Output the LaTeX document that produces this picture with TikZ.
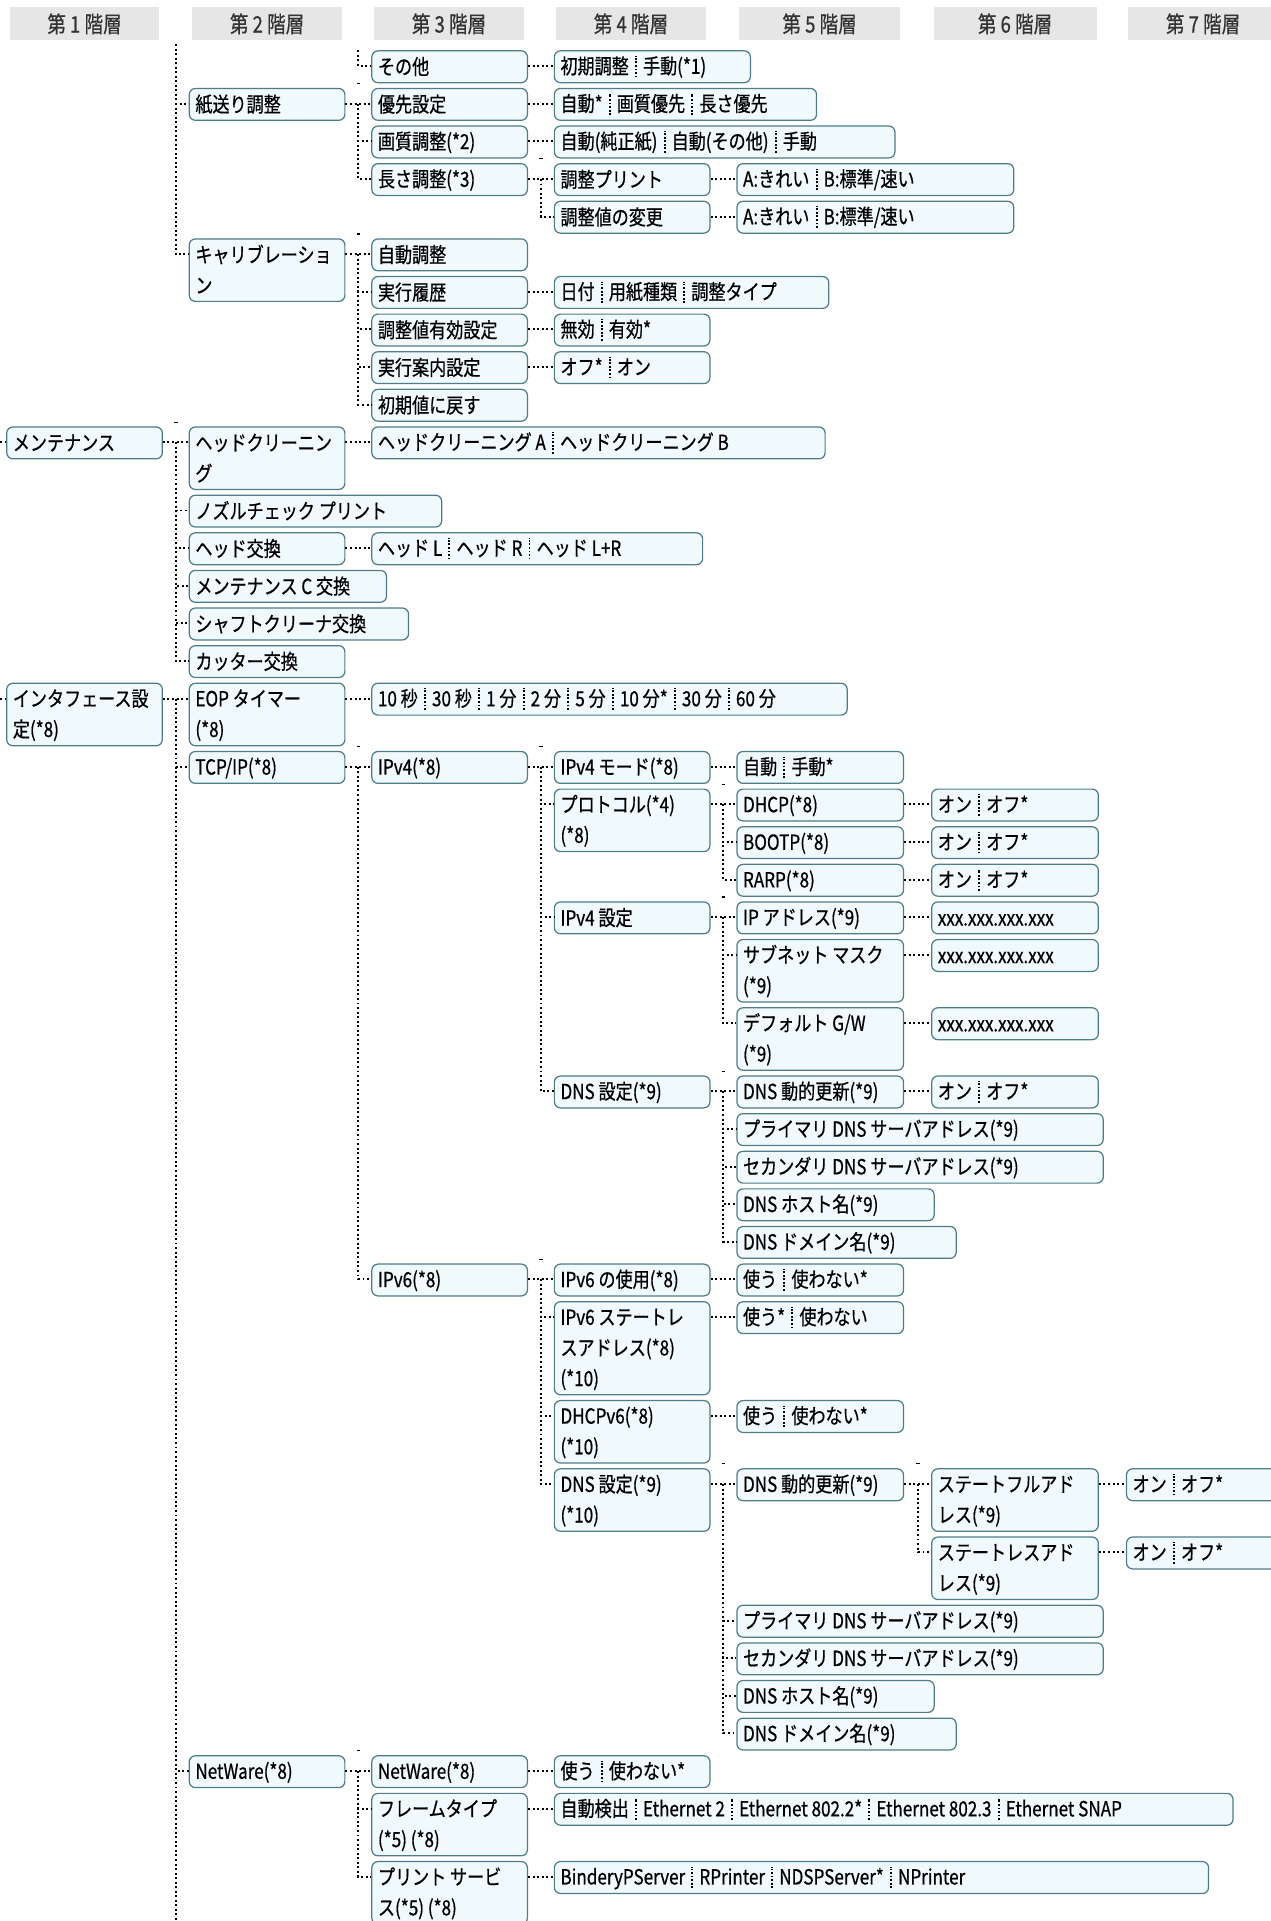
\documentclass[tikz,border=0pt]{standalone}
\usepackage{fontspec}
\newfontfamily\jp[FakeStretch=0.82,FakeBold=0.6]{Noto Sans CJK JP}
\definecolor{bd}{HTML}{4E7C88}
\definecolor{bf}{HTML}{F0FAFD}
\definecolor{hd}{HTML}{E6E6E6}
\definecolor{ht}{HTML}{333333}
\newcommand\dv{\hspace{5pt}\tikz[baseline=0pt]\draw[line width=1.6pt,dash pattern=on 1.5pt off 1.4pt] (0pt,-3pt)--(0pt,14.5pt);\hspace{5pt}}
\newcommand\st{\vrule width 0pt height 15pt depth 2.5pt}
\tikzset{
  bx/.style={draw=bd, fill=bf, line width=1pt, rounded corners=5pt, anchor=north west, inner sep=0pt},
  hdr/.style={fill=hd, text=ht, minimum height=27pt, inner sep=0pt, font=\jp\fontsize{18.5}{25}\selectfont},
  conn/.style={line width=1.6pt, dash pattern=on 1.6pt off 2.1pt, black},
  tk/.style={line width=0.9pt, black}
}
\newcommand\B[6]{\node[bx, minimum width=#4pt, minimum height={26+25*(#5-1)}] (#1) at (#2,#3) {\parbox{\dimexpr#4pt-10pt\relax}{\raggedright\st #6\st}};}
\newcommand\link[2]{\draw[conn] ([yshift=-13pt]#1.north east) -- ([yshift=-13pt]#2.north west);}
\newcommand\tree[3]{%
  \link{#1}{#2}
  \draw[tk] ([xshift=-12pt,yshift=3.5pt]#2.north west) -- ([xshift=-9pt,yshift=3.5pt]#2.north west);
  \foreach \c in {#3} {\draw[conn] ([xshift=-10.5pt,yshift=-13pt]#2.north west) |- ([yshift=-13pt]\c.north west);}
}
\begin{document}
\begin{tikzpicture}[x=1pt,y=-1pt,font=\jp\fontsize{17}{25}\selectfont]
\useasboundingbox (0,0) rectangle (1037,1568);
% headers
\node[hdr, minimum width=122pt] (h1) at (69,19.5) {第 1 階層};
\node[hdr, minimum width=122pt] (h2) at (218,19.5) {第 2 階層};
\node[hdr, minimum width=123pt] (h3) at (366.5,19.5) {第 3 階層};
\node[hdr, minimum width=122pt] (h4) at (515,19.5) {第 4 階層};
\node[hdr, minimum width=132pt] (h5) at (669,19.5) {第 5 階層};
\node[hdr, minimum width=133pt] (h6) at (828.5,19.5) {第 6 階層};
\node[hdr, minimum width=122pt] (h7) at (982,19.5) {第 7 階層};

% ---- boxes
\B{a0}{303}{41.0}{127}{1}{その他}
\B{a0o}{452}{41.0}{160}{1}{初期調整\dv 手動(*1)}
\B{b}{154}{71.7}{127}{1}{紙送り調整}
\B{b1}{303}{71.7}{127}{1}{優先設定}
\B{b1o}{452}{71.7}{214}{1}{自動*\dv 画質優先\dv 長さ優先}
\B{b2}{303}{102.4}{127}{1}{画質調整(*2)}
\B{b2o}{452}{102.4}{278}{1}{自動(純正紙)\dv 自動(その他)\dv 手動}
\B{b3}{303}{133.1}{127}{1}{長さ調整(*3)}
\B{b3a}{452}{133.1}{127}{1}{調整プリント}
\B{b3ao}{601}{133.1}{226}{1}{A:きれい\dv B:標準/速い}
\B{b3b}{452}{163.8}{127}{1}{調整値の変更}
\B{b3bo}{601}{163.8}{226}{1}{A:きれい\dv B:標準/速い}
\B{k}{154}{194.5}{127}{2}{キャリブレーショ\\ン}
\B{k1}{303}{194.5}{127}{1}{自動調整}
\B{k2}{303}{225.2}{127}{1}{実行履歴}
\B{k2o}{452}{225.2}{224}{1}{日付\dv 用紙種類\dv 調整タイプ}
\B{k3}{303}{255.9}{127}{1}{調整値有効設定}
\B{k3o}{452}{255.9}{127}{1}{無効\dv 有効*}
\B{k4}{303}{286.6}{127}{1}{実行案内設定}
\B{k4o}{452}{286.6}{127}{1}{オフ*\dv オン}
\B{k5}{303}{317.3}{127}{1}{初期値に戻す}
\B{m}{5}{348.0}{127}{1}{メンテナンス}
\B{m1}{154}{348.0}{127}{2}{ヘッドクリーニン\\グ}
\B{m1o}{303}{348.0}{370}{1}{ヘッドクリーニング A\dv ヘッドクリーニング B}
\B{m2}{154}{403.7}{206}{1}{ノズルチェック プリント}
\B{m3}{154}{434.4}{127}{1}{ヘッド交換}
\B{m3o}{303}{434.4}{270}{1}{ヘッド L\dv ヘッド R\dv ヘッド L+R}
\B{m4}{154}{465.1}{161}{1}{メンテナンス C 交換}
\B{m5}{154}{495.8}{179}{1}{シャフトクリーナ交換}
\B{m6}{154}{526.5}{127}{1}{カッター交換}
\B{i}{5}{557.2}{127}{2}{インタフェース設\\定(*8)}
\B{i1}{154}{557.2}{127}{2}{EOP タイマー\\(*8)}
\B{i1o}{303}{557.2}{388}{1}{10 秒\dv 30 秒\dv 1 分\dv 2 分\dv 5 分\dv 10 分*\dv 30 分\dv 60 分}
\B{t}{154}{612.9}{127}{1}{TCP/IP(*8)}
\B{t4}{303}{612.9}{127}{1}{IPv4(*8)}
\B{t4a}{452}{612.9}{127}{1}{IPv4 モード(*8)}
\B{t4ao}{601}{612.9}{136}{1}{自動\dv 手動*}
\B{t4b}{452}{643.6}{127}{2}{プロトコル(*4)\\(*8)}
\B{p1}{601}{643.6}{136}{1}{DHCP(*8)}
\B{p1o}{760}{643.6}{136}{1}{オン\dv オフ*}
\B{p2}{601}{674.3}{136}{1}{BOOTP(*8)}
\B{p2o}{760}{674.3}{136}{1}{オン\dv オフ*}
\B{p3}{601}{705.0}{136}{1}{RARP(*8)}
\B{p3o}{760}{705.0}{136}{1}{オン\dv オフ*}
\B{t4c}{452}{735.7}{127}{1}{IPv4 設定}
\B{s1}{601}{735.7}{136}{1}{IP アドレス(*9)}
\B{s1o}{760}{735.7}{136}{1}{xxx.xxx.xxx.xxx}
\B{s2}{601}{766.4}{136}{2}{サブネット マスク\\(*9)}
\B{s2o}{760}{766.4}{136}{1}{xxx.xxx.xxx.xxx}
\B{s3}{601}{822.1}{136}{2}{デフォルト G/W\\(*9)}
\B{s3o}{760}{822.1}{136}{1}{xxx.xxx.xxx.xxx}
\B{t4d}{452}{877.8}{127}{1}{DNS 設定(*9)}
\B{d1}{601}{877.8}{136}{1}{DNS 動的更新(*9)}
\B{d1o}{760}{877.8}{136}{1}{オン\dv オフ*}
\B{d2}{601}{908.5}{299}{1}{プライマリ DNS サーバアドレス(*9)}
\B{d3}{601}{939.2}{299}{1}{セカンダリ DNS サーバアドレス(*9)}
\B{d4}{601}{969.9}{161}{1}{DNS ホスト名(*9)}
\B{d5}{601}{1000.6}{179}{1}{DNS ドメイン名(*9)}
\B{t6}{303}{1031.3}{127}{1}{IPv6(*8)}
\B{u1}{452}{1031.3}{127}{1}{IPv6 の使用(*8)}
\B{u1o}{601}{1031.3}{136}{1}{使う\dv 使わない*}
\B{u2}{452}{1062.0}{127}{3}{IPv6 ステートレ\\スアドレス(*8)\\(*10)}
\B{u2o}{601}{1062.0}{136}{1}{使う*\dv 使わない}
\B{u3}{452}{1142.7}{127}{2}{DHCPv6(*8)\\(*10)}
\B{u3o}{601}{1142.7}{136}{1}{使う\dv 使わない*}
\B{u4}{452}{1198.4}{127}{2}{DNS 設定(*9)\\(*10)}
\B{e1}{601}{1198.4}{136}{1}{DNS 動的更新(*9)}
\B{f1}{760}{1198.4}{136}{2}{ステートフルアド\\レス(*9)}
\B{f1o}{919}{1198.4}{150}{1}{オン\dv オフ*}
\B{f2}{760}{1254.1}{136}{2}{ステートレスアド\\レス(*9)}
\B{f2o}{919}{1254.1}{150}{1}{オン\dv オフ*}
\B{e2}{601}{1309.8}{299}{1}{プライマリ DNS サーバアドレス(*9)}
\B{e3}{601}{1340.5}{299}{1}{セカンダリ DNS サーバアドレス(*9)}
\B{e4}{601}{1371.2}{161}{1}{DNS ホスト名(*9)}
\B{e5}{601}{1401.9}{179}{1}{DNS ドメイン名(*9)}
\B{n}{154}{1432.6}{127}{1}{NetWare(*8)}
\B{n1}{303}{1432.6}{127}{1}{NetWare(*8)}
\B{n1o}{452}{1432.6}{127}{1}{使う\dv 使わない*}
\B{n2}{303}{1463.3}{127}{2}{フレームタイプ\\(*5) (*8)}
\B{n2o}{452}{1463.3}{554}{1}{自動検出\dv Ethernet 2\dv Ethernet 802.2*\dv Ethernet 802.3\dv Ethernet SNAP}
\B{n3}{303}{1519.0}{127}{2}{プリント サービ\\ス(*5) (*8)}
\B{n3o}{452}{1519.0}{534}{1}{BinderyPServer\dv RPrinter\dv NDSPServer*\dv NPrinter}

% ---- connectors
\coordinate (top1) at (143.5,36);
\coordinate (top2) at (292.5,41);
\coordinate (lm) at (0,361);
\coordinate (li) at (0,570.2);
\coordinate (bot1) at (143.5,1572);
\draw[conn] (top1) |- ([yshift=-13pt]b.north west);
\draw[conn] (top1) |- ([yshift=-13pt]k.north west);
\draw[conn] (top2) |- ([yshift=-13pt]a0.north west);
\link{a0}{a0o}
\tree{b}{b1}{b2,b3}
\link{b1}{b1o}
\link{b2}{b2o}
\tree{b3}{b3a}{b3b}
\link{b3a}{b3ao}
\link{b3b}{b3bo}
\tree{k}{k1}{k2,k3,k4,k5}
\link{k2}{k2o}
\link{k3}{k3o}
\link{k4}{k4o}
\draw[conn] (lm) -- ([yshift=-13pt]m.north west);
\tree{m}{m1}{m2,m3,m4,m5,m6}
\link{m1}{m1o}
\link{m3}{m3o}
\draw[conn] (li) -- ([yshift=-13pt]i.north west);
\link{i}{i1}
\draw[conn] ([xshift=-10.5pt,yshift=-13pt]i1.north west) -- (bot1);
\draw[conn] ([xshift=-10.5pt,yshift=-13pt]i1.north west) |- ([yshift=-13pt]t.north west);
\draw[conn] ([xshift=-10.5pt,yshift=-13pt]i1.north west) |- ([yshift=-13pt]n.north west);
\link{i1}{i1o}
\tree{t}{t4}{t6}
\tree{t4}{t4a}{t4b,t4c,t4d}
\link{t4a}{t4ao}
\tree{t4b}{p1}{p2,p3}
\link{p1}{p1o}
\link{p2}{p2o}
\link{p3}{p3o}
\tree{t4c}{s1}{s2,s3}
\link{s1}{s1o}
\link{s2}{s2o}
\link{s3}{s3o}
\tree{t4d}{d1}{d2,d3,d4,d5}
\link{d1}{d1o}
\tree{t6}{u1}{u2,u3,u4}
\link{u1}{u1o}
\link{u2}{u2o}
\link{u3}{u3o}
\tree{u4}{e1}{e2,e3,e4,e5}
\tree{e1}{f1}{f2}
\link{f1}{f1o}
\link{f2}{f2o}
\tree{n}{n1}{n2,n3}
\link{n1}{n1o}
\link{n2}{n2o}
\link{n3}{n3o}
\end{tikzpicture}
\end{document}
